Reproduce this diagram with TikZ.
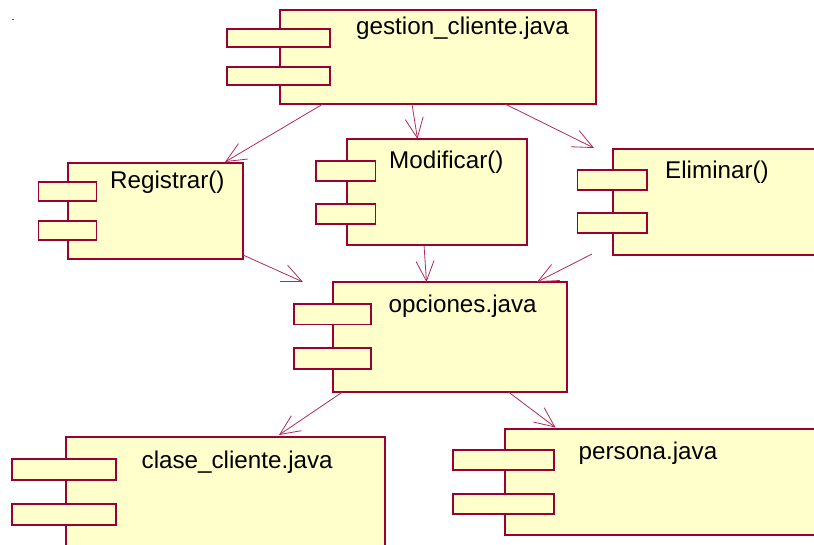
\documentclass[tikz,border=0pt]{standalone}
\usepackage{fontspec}
\setmainfont{Liberation Sans}
\usepackage{xcolor}
\definecolor{UmlBorde}{HTML}{990033}
\definecolor{UmlFondo}{HTML}{FFFFCC}
\definecolor{UmlFlecha}{HTML}{B02A5C}
\usepackage{tikz}
\usetikzlibrary{arrows.meta,calc}

% two small tabs on the left side of a component box
\newcommand{\pestanas}[6]{%
  \draw[tab] ([shift={(#2,#4)}]#1.north west) rectangle ++(#3,#6);
  \draw[tab] ([shift={(#2,#5)}]#1.north west) rectangle ++(#3,#6);}

\begin{document}
\begin{tikzpicture}[x=1pt,y=-1pt,
  comp/.style={draw=UmlBorde,fill=UmlFondo,line width=1.9pt,anchor=north west,inner sep=0pt,outer sep=0pt},
  tab/.style={draw=UmlBorde,fill=UmlFondo,line width=1.9pt},
  lbl/.style={anchor=base west,inner sep=0pt,font=\fontsize{24.2}{27}\selectfont},
  dep/.style={-{Straight Barb[length=20pt,width=18pt]},UmlFlecha,line width=0.8pt}
]
  \useasboundingbox (0,0) rectangle (814,545);
  \clip (0,0) rectangle (814,545);
  \fill[white] (0,0) rectangle (814,545);
  \draw[UmlFlecha,line width=0.8pt] (12,19) -- (14,19);

  % components
  \node[comp,minimum width=316pt,minimum height=94pt] (g) at (280,10) {};
  \pestanas{g}{-53}{103}{18.7}{56.7}{18}
  \node[lbl] (gt) at ([shift={(76,25)}]g.north west) {gestion\_cliente.java};

  \node[comp,minimum width=175pt,minimum height=96pt] (r) at (68,163) {};
  \pestanas{r}{-29.5}{58}{19}{57.7}{19}
  \node[lbl] (rt) at ([shift={(42,26)}]r.north west) {Registrar()};

  \node[comp,minimum width=180pt,minimum height=106pt] (m) at (347,139) {};
  \pestanas{m}{-31}{59.5}{21.7}{64.7}{20}
  \node[lbl] (mt) at ([shift={(42,30)}]m.north west) {Modificar()};

  \node[comp,minimum width=230pt,minimum height=106pt] (el) at (613,149) {};
  \pestanas{el}{-35.5}{69.5}{21}{63.7}{20}
  \node[lbl] (elt) at ([shift={(52,30)}]el.north west) {Eliminar()};

  \node[comp,minimum width=234pt,minimum height=110pt] (o) at (333,282) {};
  \pestanas{o}{-39}{77}{22}{66.4}{20.5}
  \node[lbl] (ot) at ([shift={(55.5,31)}]o.north west) {opciones.java};

  \node[comp,minimum width=319pt,minimum height=130pt] (c) at (66,437) {};
  \pestanas{c}{-54}{104}{22.3}{67.3}{20.5}
  \node[lbl] (ct) at ([shift={(75.5,31)}]c.north west) {clase\_cliente.java};

  \node[comp,minimum width=330pt,minimum height=106pt] (p) at (505,429) {};
  \pestanas{p}{-52}{101}{21.4}{64.7}{20}
  \node[lbl] (pt) at ([shift={(73.5,30)}]p.north west) {persona.java};

  % dependencies
  \draw[dep] ([xshift=43pt]g.south west) -- ([xshift=157pt,yshift=1pt]r.north west);
  \draw[dep] ([xshift=132pt]g.south west) -- ([xshift=70.5pt]m.north west);
  \draw[dep] ([xshift=225pt]g.south west) -- ([xshift=-19pt,yshift=1pt]el.north west);
  \draw[dep] ([yshift=4pt]r.south east) -- ([xshift=-30pt]o.north west);
  \draw[dep] ([xshift=77pt]m.south west) -- ([xshift=93.5pt]o.north west);
  \draw[dep] ([xshift=-21pt,yshift=1pt]el.south west) -- ([xshift=204pt]o.north west);
  \draw[dep] ([xshift=9.5pt]o.south west) -- ([xshift=213pt,yshift=2pt]c.north west);
  \draw[dep] ([xshift=175.5pt]o.south west) -- ([xshift=50.5pt,yshift=1.5pt]p.north west);
\end{tikzpicture}
\end{document}
